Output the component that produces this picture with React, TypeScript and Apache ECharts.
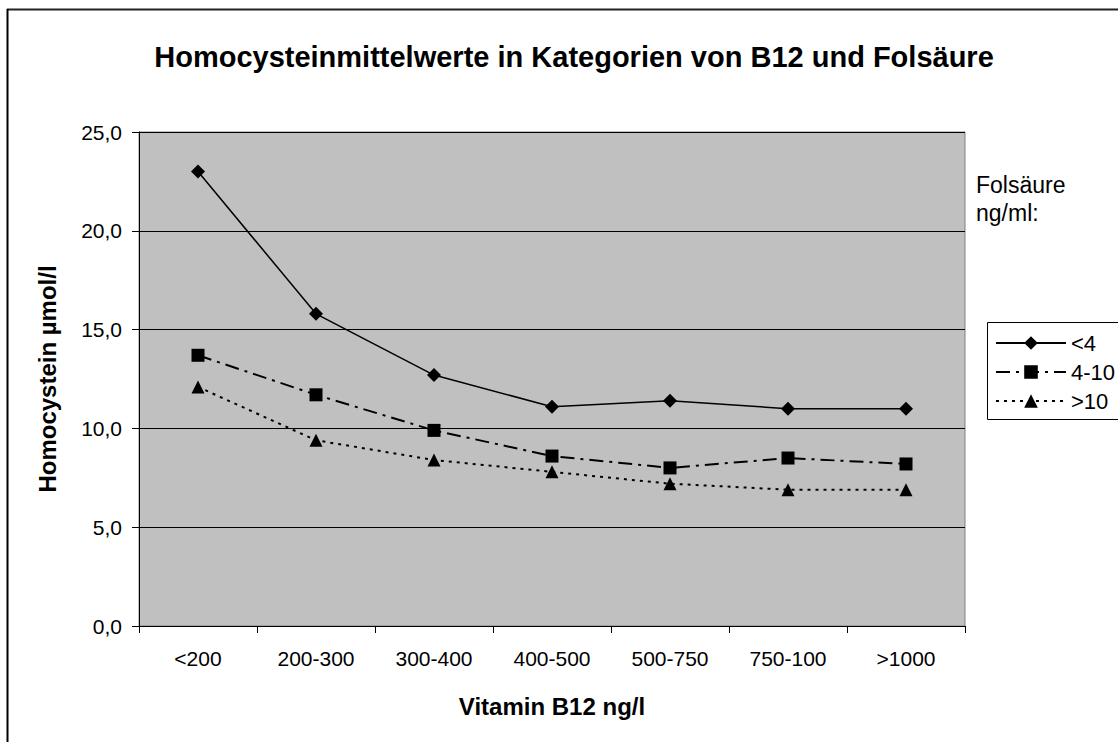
import React, { useEffect, useRef } from "react";
import * as echarts from "echarts";

const categories = ["<200", "200-300", "300-400", "400-500", "500-750", "750-100", ">1000"];
const seriesNames = ["<4", "4-10", ">10"];
const folLow = [23.0, 15.8, 12.7, 11.1, 11.4, 11.0, 11.0];
const folMid = [13.7, 11.7, 9.9, 8.6, 8.0, 8.5, 8.2];
const folHigh = [12.1, 9.4, 8.4, 7.8, 7.2, 6.9, 6.9];
const yTicks = { min: 0, max: 25, interval: 5 };

const FONT = "'Liberation Sans', Arial, sans-serif";

export default function App() {
  const ref = useRef<HTMLDivElement>(null);
  useEffect(() => {
    if (!ref.current) return;
    const chart = echarts.init(ref.current, undefined, { renderer: "svg" });
    chart.setOption({
      animation: false,
      backgroundColor: "#ffffff",
      textStyle: { fontFamily: FONT, color: "#000" },
      title: {
        text: "Homocysteinmittelwerte in Kategorien von B12 und Folsäure",
        left: 569,
        top: 37,
        textAlign: "center",
        textStyle: { fontFamily: FONT, fontSize: 29, fontWeight: "bold", color: "#000" },
      },
      grid: {
        left: 139,
        right: 153,
        top: 132,
        bottom: 116,
        show: true,
        backgroundColor: "#c0c0c0",
        borderColor: "#808080",
        borderWidth: 1,
      },
      xAxis: {
        type: "category",
        data: categories,
        boundaryGap: true,
        name: "Vitamin B12 ng/l",
        nameLocation: "middle",
        nameGap: 68,
        nameTextStyle: { fontFamily: FONT, fontSize: 24, fontWeight: "bold", color: "#000" },
        axisLine: { show: true, lineStyle: { color: "#000", width: 1 } },
        axisTick: { show: true, alignWithLabel: false, length: 7, lineStyle: { color: "#000" } },
        axisLabel: { fontFamily: FONT, fontSize: 21, color: "#000", margin: 22 },
        splitLine: { show: false },
      },
      yAxis: {
        type: "value",
        min: yTicks.min,
        max: yTicks.max,
        interval: yTicks.interval,
        name: "Homocystein µmol/l",
        nameLocation: "middle",
        nameGap: 80,
        nameTextStyle: { fontFamily: FONT, fontSize: 24, fontWeight: "bold", color: "#000" },
        axisLine: { show: true, lineStyle: { color: "#000", width: 1 } },
        axisTick: { show: true, length: 7, lineStyle: { color: "#000" } },
        axisLabel: {
          fontFamily: FONT,
          fontSize: 21,
          color: "#000",
          margin: 17,
          formatter: (v: number) => v.toFixed(1).replace(".", ","),
        },
        splitLine: { show: true, lineStyle: { color: "#000", width: 1 } },
      },
      legend: {
        orient: "vertical",
        left: 995,
        top: 332,
        padding: 0,
        itemWidth: 70,
        itemHeight: 17,
        itemGap: 7,
        textStyle: { fontFamily: FONT, fontSize: 22, color: "#000" },
        data: seriesNames,
      },
      graphic: [
        { type: "line", shape: { x1: 7, y1: 9.5, x2: 1118, y2: 9.5 }, style: { stroke: "#222", lineWidth: 2 } },
        { type: "line", shape: { x1: 7.5, y1: 9, x2: 7.5, y2: 742 }, style: { stroke: "#000", lineWidth: 2 } },
        { type: "text", left: 976, top: 173, style: { text: "Folsäure", font: `23px ${FONT}`, fill: "#000" } },
        { type: "text", left: 976, top: 201, style: { text: "ng/ml:", font: `23px ${FONT}`, fill: "#000" } },
        {
          type: "rect",
          shape: { x: 987.5, y: 322.5, width: 200, height: 97 },
          style: { fill: "#fff", stroke: "#000", lineWidth: 1 },
          z: -1,
        },
      ],
      series: [
        {
          name: seriesNames[0],
          type: "line",
          data: folLow,
          symbol: "diamond",
          symbolSize: 14,
          lineStyle: { color: "#000", width: 1.5, type: "solid" },
          itemStyle: { color: "#000" },
        },
        {
          name: seriesNames[1],
          type: "line",
          data: folMid,
          symbol: "rect",
          symbolSize: 13,
          lineStyle: { color: "#000", width: 2, type: [14, 6, 3, 6] },
          itemStyle: { color: "#000" },
        },
        {
          name: seriesNames[2],
          type: "line",
          data: folHigh,
          symbol: "triangle",
          symbolSize: 13,
          lineStyle: { color: "#000", width: 2, type: [3, 5] },
          itemStyle: { color: "#000" },
        },
      ],
    });
    return () => chart.dispose();
  }, []);
  return <div ref={ref} style={{ position: "fixed", left: 0, top: 0, width: 1118, height: 742 }} />;
}
